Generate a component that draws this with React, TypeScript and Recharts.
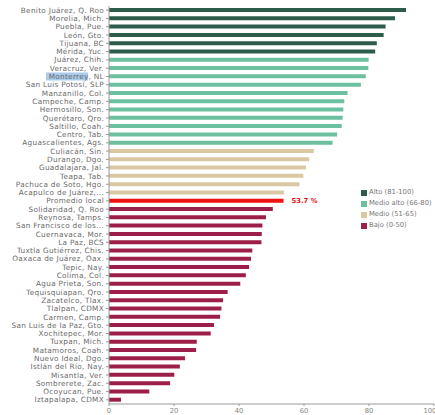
import React from 'react';
import { BarChart, Bar, XAxis, YAxis, Cell, LabelList } from 'recharts';

const cities = [
  'Benito Juárez, Q. Roo', 'Morelia, Mich.', 'Puebla, Pue.', 'León, Gto.', 'Tijuana, BC',
  'Mérida, Yuc.', 'Juárez, Chih.', 'Veracruz, Ver.', 'Monterrey, NL', 'San Luis Potosí, SLP',
  'Manzanillo, Col.', 'Campeche, Camp.', 'Hermosillo, Son.', 'Querétaro, Qro.', 'Saltillo, Coah.',
  'Centro, Tab.', 'Aguascalientes, Ags.', 'Culiacán, Sin.', 'Durango, Dgo.', 'Guadalajara, Jal.',
  'Teapa, Tab.', 'Pachuca de Soto, Hgo.', 'Acapulco de Juárez,...', 'Promedio local',
  'Solidaridad, Q. Roo', 'Reynosa, Tamps.', 'San Francisco de los...', 'Cuernavaca, Mor.',
  'La Paz, BCS', 'Tuxtla Gutiérrez, Chis.', 'Oaxaca de Juárez, Oax.', 'Tepic, Nay.', 'Colima, Col.',
  'Agua Prieta, Son.', 'Tequisquiapan, Qro.', 'Zacatelco, Tlax.', 'Tlalpan, CDMX', 'Carmen, Camp.',
  'San Luis de la Paz, Gto.', 'Xochitepec, Mor.', 'Tuxpan, Mich.', 'Matamoros, Coah.',
  'Nuevo Ideal, Dgo.', 'Istlán del Río, Nay.', 'Misantla, Ver.', 'Sombrerete, Zac.',
  'Ocoyucan, Pue.', 'Iztapalapa, CDMX',
];

const scores = [
  91.4, 88.0, 85.1, 84.5, 82.4,
  81.9, 79.9, 79.8, 79.0, 77.5,
  73.4, 72.4, 72.1, 71.9, 71.6,
  70.2, 68.8, 63.0, 61.6, 60.6,
  59.8, 58.6, 53.8, 53.7,
  50.4, 48.3, 47.2, 47.0,
  46.9, 44.1, 43.7, 43.1, 42.1,
  40.4, 36.5, 35.1, 34.6, 34.2,
  32.3, 31.3, 27.0, 26.8,
  23.4, 21.8, 20.1, 18.8,
  12.4, 3.7,
];

const xTicks = [0, 20, 40, 60, 80, 100];

const levelNames = ['Alto (81-100)', 'Medio alto (66-80)', 'Medio (51-65)', 'Bajo (0-50)'];
const levelColors = ['#2d5d4a', '#6cbf9f', '#d9c8a2', '#9b1f4a'];
const levelMins = [81, 66, 51, 0];

const AVERAGE = 'Promedio local';
const averageColor = '#ee1111';

const data = cities.map((name, i) => ({ name, value: scores[i] }));

const colorFor = (name: string, v: number) => {
  if (name === AVERAGE) return averageColor;
  const idx = levelMins.findIndex((m) => v >= m);
  return levelColors[idx];
};

const FONT = '"DejaVu Sans", sans-serif';

const CityTick = (props: any) => {
  const { x, y, payload } = props;
  const isMty = payload.value === 'Monterrey, NL';
  return (
    <g>
      {isMty && <rect x={x - 58} y={y - 4} width={42} height={8} fill="#a9cbec" />}
      <text x={x} y={y} dy={2.6} textAnchor="end" fontSize={7.3} letterSpacing={0.3} fill="#6a6a6a" fontFamily={FONT}>
        {payload.value}
      </text>
    </g>
  );
};

const AverageLabel = (props: any) => {
  const { x, y, width, height, index } = props;
  if (data[index].name !== AVERAGE) return null;
  return (
    <text x={x + width + 8} y={y + height / 2} dy={2.5} fontSize={6.8} fill={averageColor} fontFamily={FONT} fontWeight="bold">
      {`${data[index].value} %`}
    </text>
  );
};

const LevelLegend = () => (
  <div
    style={{
      position: 'absolute', top: 187, left: 361, fontFamily: FONT, fontSize: 6.8,
      color: '#777', lineHeight: '11px', whiteSpace: 'nowrap',
    }}
  >
    {levelNames.map((n, i) => (
      <div key={n} style={{ display: 'flex', alignItems: 'center' }}>
        <span style={{ display: 'inline-block', width: 6, height: 6, background: levelColors[i], marginRight: 2 }} />
        {n}
      </div>
    ))}
  </div>
);

export default function App() {
  return (
    <div style={{ position: 'absolute', left: 0, top: 0, width: 435, height: 415, overflow: 'hidden', background: '#fff' }}>
      <BarChart
        width={435}
        height={415}
        data={data}
        layout="vertical"
        margin={{ top: 6, right: 1, bottom: 0, left: 0 }}
        barCategoryGap={2}
      >
        <XAxis
          type="number"
          domain={[0, 100]}
          ticks={xTicks}
          tick={{ fontSize: 6.8, fill: '#888', fontFamily: FONT }}
          tickSize={2}
          height={11}
          stroke="#999"
          tickLine={{ stroke: '#999' }}
        />
        <YAxis
          type="category"
          dataKey="name"
          width={109}
          interval={0}
          tick={<CityTick />}
          tickSize={3}
          stroke="#999"
        />
        <Bar dataKey="value" barSize={4} isAnimationActive={false}>
          {data.map((d, i) => (
            <Cell key={i} fill={colorFor(d.name, d.value)} />
          ))}
          <LabelList dataKey="value" content={<AverageLabel />} />
        </Bar>
      </BarChart>
      <LevelLegend />
    </div>
  );
}
